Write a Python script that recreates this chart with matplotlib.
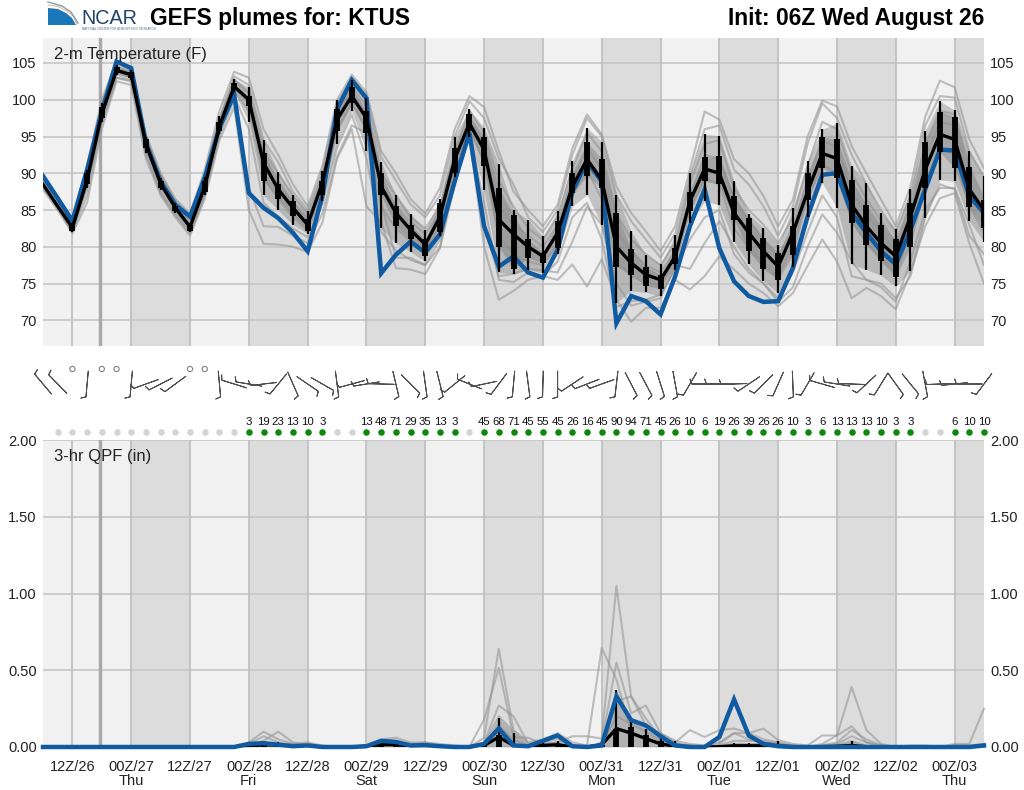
import numpy as np
import matplotlib
matplotlib.use("Agg")
import matplotlib.pyplot as plt
from matplotlib.patches import Polygon

plt.rcParams['font.family'] = ['Liberation Sans', 'DejaVu Sans']

W, H = 1024, 790
steps = np.arange(65)

# 2-m temperature, one value every 3 hours
temp_median = [88.5,85.5,82.6,89.1,98.1,104,103.4,94,88.6,85.3,82.7,88.2,96.4,101.8,100,91.4,87.8,85.3,83,88.7,97.3,100.5,97.5,88.2,84.6,82.3,80.3,84.1,91.9,96.8,93.2,83.7,81.7,80,78.7,81.9,88.2,91.9,89.1,80,77.8,76.2,75.5,78.7,86.2,90.6,90,84.6,81.9,79.4,77.3,81.9,87.5,92.7,92,85.7,82.8,80.5,78.7,84.1,90.5,95.3,94.6,87.8,85]
temp_control = [89.6,86.6,83.5,90.5,98.4,105.2,104.3,94.1,88.9,85.7,84.1,89.4,96.2,100.7,87.3,85.3,83.9,81.9,79.4,86.9,98.7,102.7,100.2,76.4,78.9,80.7,79.2,81.7,88.9,95.5,82.8,77.3,78.7,76.5,75.8,79.6,87.5,91.6,88.9,69.6,73.3,72.6,70.8,76,82.8,87.8,79.8,75.3,73.3,72.5,72.6,77.1,84.1,89.8,90,84.6,81.9,79.4,77.6,82.3,87.8,93.2,93.1,86.9,84.6]

# box and whisker values start at step 2
whisk_lo = [82,88,97,103.3,102.7,92.8,87.7,84.6,82,87,95.3,101,97,87,85,83,81.8,86.2,94,98.5,93,82.5,80.5,79.3,78,81.5,89.5,95,87.7,76.5,76.3,76.9,76.4,79,85.5,87.1,82.9,72.4,74,73.8,73.3,76.9,83.2,86.2,85.7,80.7,77.6,75.3,73.7,77.3,84.1,88.7,85.3,77.6,76.9,76.1,74.6,76.7,83.9,89.1,88.9,83.5,80.7]
box_lo = [82.2,88.5,97.5,103.6,103,93.4,88,84.9,82.2,87.5,95.8,101.3,99.2,89,86.5,84.2,82.2,87,95.7,99.5,95.5,87,82.8,81,78.8,82,90,95.7,91,80,77,78.5,77.8,79.8,87.3,89.6,88,77.3,76.2,74.7,74.3,77.6,84.8,88.9,88.5,83.7,79.4,77,75.5,78.9,86.4,90.7,89.4,83.3,80.3,78,75.9,80,88,92.9,90.7,85.4,82.6]
box_hi = [83,90,99,104.4,103.8,94.6,89,85.6,83,89,97,102.3,100.5,92.8,88.6,86.2,83.8,89,98.7,101.7,98.5,90,85.5,83,81,86,93.5,98,95,88,84.3,81,79.2,83.5,90.1,94.2,92,84.6,79.7,77.3,76.2,79.8,87.5,92.2,92.3,86.9,83.9,81.2,79.2,82.8,90,95,94.6,89.1,85.7,82.9,81,86,94.3,98.4,97.7,90.8,86.4]
whisk_hi = [83.2,90.5,99.5,104.7,104,95,89.4,86,83.3,89.5,97.8,102.8,101.7,94.5,90.2,87,84.8,90.3,100,102.7,100.3,91.5,87,84.5,82.3,86.5,95,98.7,96.2,91.2,85,83.7,81.4,84.8,91.6,96.2,94.3,87.1,82.1,78.9,77.6,81.6,90,95.3,95.1,88.9,84.4,82.6,80.3,85.3,91.6,96,96.8,91,88.7,84.6,82.4,87.8,95.8,99.8,98.6,93,89.6]

# ensemble members that can be followed by eye
temp_members = [
    [90,86.8,83.8,91,100,105.3,104.4,95.3,90,86.5,84.5,90.5,98.5,103.8,103,96,92.5,88.5,85.5,91,100,103.4,101,93,90,86.5,84.5,88,96,100.5,99,93,87.5,85,82.8,85.7,93.4,98,95.3,88.2,84.6,82.1,79.4,82.8,90.5,98.4,97.3,91.9,90,86.9,82.8,86.4,95,99.9,99.1,93.7,90,86.4,82.8,88.2,97.7,102.6,101.7,94.6,90.7],
    [87.8,85,81.8,86,96,102.5,102,92,87,84,81.5,86.5,94.5,99,85,80.4,80.3,80,79.3,83.3,92,96,85.5,83.3,77.1,76.9,76.3,79.8,88.5,95,80,72.8,74,75.5,76,75.5,77.6,74.6,78.3,72.8,69.8,71.7,71.7,75.5,74.2,76,78.7,76.9,75,73.7,71.9,73.7,77.4,81,78,73,74.4,73.3,71.5,76.5,82.8,86.6,87.3,80.5,75],
    [89.8,86.6,83.5,90.5,99.5,105,104.2,95,89.8,86.3,84.2,90,97.5,103.2,102,94.5,91.5,87.5,85,90.3,99.5,103,100.5,92.2,89,85.8,84,87,95,99.8,97.5,92,88.5,84,82,85,92.5,97.5,95,87,83.5,81,78.5,81.8,89.5,96,96.5,90.5,88.5,85.5,81.5,85.5,94,99.5,97.5,92.5,88.5,85,82,87,96.5,100.5,100.3,93,89.5],
    [88,85.2,82,87,97,103,102.5,92.5,87.3,84.3,81.8,87,95,100,88,82.8,82.7,81.5,80.5,84.5,92.3,96.5,95.5,86,78.5,78.5,77.5,80,89.5,96,83,76,76.3,77,76.8,76.5,80.7,85.5,83,75,72,72.5,73,77.5,77,80.5,83.5,80,77,75,72.5,74.5,80,84.4,81.9,78,75.5,74.5,72.5,78,85,88,88,83,77.5],
    [88.2,85.4,82.2,88,96.8,103,102.6,93,87.5,84.5,82,87.2,95.5,100.5,96,86,84,82.5,81.3,85.8,93.5,98,92,82,79.5,78.2,77.5,81,88.8,95.5,86,75.5,75.2,76.5,76,78,84,86,81,71.8,72.6,72.8,73.5,77,81,84,85,79,76.5,75,73,76.5,82,87,84,76,75.5,75,73,76,84,88.5,87.8,81.5,79],
    [89.4,86.2,83.2,90,99,104.6,103.9,94.6,89.4,86,83.6,89.5,97.3,102.8,101,93,90,87,84.5,89.8,98.5,102,99,90,87,84,82.5,85.5,93,98.5,95.5,89,85.5,82.5,81,84,90.5,95.5,93,84.5,81,79,77.5,80.5,88.5,94,94.5,88,85,83,80.5,84,91,97,96,90,86.5,83.5,80.5,86,94,98.5,98,91,86.5],
    [88.9,85.9,82.9,89.8,98.8,104.3,103.7,94.4,89,85.8,83.2,89,97,102.5,100.8,92.5,89,86,83.9,89.2,97.5,101.3,98,88.8,85.5,83.4,81.7,84.8,92,97.5,94,85.5,83,81.5,80,83,89,93.5,90.5,82,79.5,77.5,76.5,79.5,87,92.5,92,86.5,83.5,81,78.5,82.8,89,94.5,93.5,87.5,84.5,82,79.5,85,92,97,96.5,89,84],
    [88.4,85.5,82.4,88.5,97.5,103.7,103,93.6,88.2,85,82.4,87.8,96,101.2,98.5,89.5,86.5,84,82.2,87.5,95.8,99.5,96,85.5,82.5,80.8,79.5,83,90.5,96.2,91.5,81.5,79,78,77.5,80.5,86.8,90.5,86.5,78,76,75,74.8,78,85,89.3,88.5,82.5,79.8,77.8,75.8,80.5,86.5,91.2,90,83.5,80.5,78.5,76.5,82,88.5,93.5,92.5,85.5,82],
]

# 3-hr QPF
qpf_median = [0,0,0,0,0,0,0,0,0,0,0,0,0,0,.005,.015,.012,.005,.005,0,0,0,.005,.015,.015,.005,.005,.002,0,0,.01,.065,.01,.005,.01,.015,0,0,.015,.12,.09,.055,.02,.005,0,0,.002,.008,.008,.008,.005,.002,0,.002,.005,.01,.002,0,0,0,0,0,0,0,0]
qpf_control = [0,0,0,0,0,0,0,0,0,0,0,0,0,0,.02,.025,.015,.005,.01,0,0,0,.005,.04,.033,.01,.012,.005,0,0,.02,.12,.01,.005,.04,.075,.005,0,.01,.33,.175,.14,.07,.01,0,0,.065,.31,.075,.02,.005,0,0,0,0,0,0,0,0,0,0,0,0,0,.01]
qpf_whisk_hi = [0,0,0,0,0,0,0,0,0,0,0,0,0,0,.02,.03,.03,.02,.015,0,0,0,.01,.03,.04,.01,.02,.01,0,0,.015,.19,.09,.01,.025,.04,0,0,.03,.37,.18,.12,.06,.04,0,0,.005,.025,.025,.028,.04,.005,0,.005,.015,.04,.01,0,0,0,0,0,0,0,0]
qpf_box_hi = [0,0,0,0,0,0,0,0,0,0,0,0,0,0,.005,.01,.01,.005,.005,0,0,0,.003,.012,.012,.005,.005,.002,0,0,.01,.075,.02,.002,.008,.012,0,0,.012,.12,.13,.075,.04,.005,0,0,.002,.005,.005,.005,.005,.002,0,.002,.005,.008,.002,0,0,0,0,0,0,0,0]
qpf_members = [
    [0,0,0,0,0,0,0,0,0,0,0,0,0,0,.03,.1,.05,.02,.03,.01,0,0,.01,.05,.06,.03,.03,.02,.01,0,.06,.64,.11,.03,.05,.09,.03,.01,.645,.44,.1,.05,.03,.02,.01,0,.02,.09,.05,.03,.02,.01,0,.02,.075,.39,.11,.02,0,.01,.01,0,.02,.02,.25],
    [0,0,0,0,0,0,0,0,0,0,0,0,0,0,.01,.04,.1,.03,.01,0,0,0,0,.04,.03,.02,.01,.01,0,0,.18,.515,.065,.06,.02,.03,.07,.07,.055,1.05,.33,.14,.09,.03,.11,.065,.11,.12,.09,.12,.045,.02,.01,.075,.075,.135,.03,.01,0,0,0,0,.01,.01,.02],
    [0,0,0,0,0,0,0,0,0,0,0,0,0,0,.02,.07,.03,.01,.02,0,0,0,.005,.03,.04,.015,.03,.01,0,0,.03,.27,.2,.02,.03,.05,.01,0,.03,.55,.22,.27,.09,.04,.02,.01,.03,.09,.09,.05,.03,.01,0,.01,.03,.11,.05,.01,0,0,0,0,0,.005,.01],
    [0,0,0,0,0,0,0,0,0,0,0,0,0,0,.01,.03,.02,.02,.01,0,0,0,.005,.02,.02,.01,.01,.005,0,0,.02,.2,.1,.01,.02,.03,.01,0,.02,.3,.33,.185,.06,.02,.01,0,.01,.04,.04,.04,.02,.005,0,.01,.02,.07,.03,0,0,0,0,0,0,0,0],
    [0,0,0,0,0,0,0,0,0,0,0,0,0,0,.005,.02,.015,.01,.005,0,0,0,.002,.015,.015,.005,.01,.005,0,0,.01,.14,.05,.005,.01,.02,0,0,.01,.2,.15,.1,.04,.01,.005,0,.005,.02,.02,.02,.01,.002,0,.005,.01,.04,.01,0,0,0,0,0,0,0,0],
]

# 3-hr chance of precipitation, printed above the QPF panel (step 0 has no dot)
pop_values = [0,0,0,0,0,0,0,0,0,0,0,0,0,3,19,23,13,10,3,0,0,13,48,71,29,35,13,3,0,45,68,71,45,55,45,26,16,45,90,94,71,45,26,10,6,19,26,39,26,26,10,3,6,13,13,13,10,3,3,0,0,6,10,10]

# wind barb direction (0, 0 means calm)
wind_u = [50,58,0,7,0,0,7,83,72,68,0,0,-7,77,80,78,52,-30,-63,-70,-10,74,80,85,-17,-55,-10,-18,65,70,72,45,7,-10,2,0,65,72,70,9,-34,-35,-22,-13,37,75,80,80,60,55,30,-3,38,77,75,75,57,37,-43,-49,-13,75,78,80,45]
wind_v = [-59,-59,0,78,0,0,77,30,37,50,0,0,78,-24,-13,9,63,68,43,40,77,20,13,-2,72,55,72,72,53,-28,15,60,77,77,75,75,43,28,25,77,66,66,70,72,63,0,0,3,40,55,68,77,65,-22,-12,-3,53,60,60,60,70,3,8,0,60]

tick_steps = [2,6,10,14,18,22,26,30,34,38,42,46,50,54,58,62]
tick_labels = ['12Z/26','00Z/27\nThu','12Z/27','00Z/28\nFri','12Z/28','00Z/29\nSat','12Z/29','00Z/30\nSun','12Z/30','00Z/31\nMon','12Z/31','00Z/01\nTue','12Z/01','00Z/02\nWed','12Z/02','00Z/03\nThu']
temp_ticks = [70,75,80,85,90,95,100,105]
qpf_ticks = [0,0.5,1,1.5,2]
night_starts = [6,14,22,30,38,46,54,62]
now_step = 3.9

BLUE = '#0f5aa0'


def add_axes_px(left, top, right, bottom):
    return fig.add_axes([left / W, 1 - bottom / H, (right - left) / W, (bottom - top) / H])


def dress_panel(ax):
    ax.set_facecolor('#f1f1f1')
    ax.set_xlim(0, 64)
    for s in night_starts:
        ax.axvspan(s, min(s + 4, 64), color='#dcdcdc', lw=0, zorder=0)
    for s in tick_steps:
        ax.axvline(s, color='#bdbdbd', lw=1.2, zorder=1)
    ax.axvline(now_step, color='#a8a8a8', lw=2.4, zorder=1)
    ax.grid(axis='y', color='#c6c6c6', lw=1.2, zorder=1)
    ax.set_axisbelow(True)
    for spine in ax.spines.values():
        spine.set_visible(False)
    ax.tick_params(axis='both', length=0, labelsize=10.5, labelcolor='#222222')
    ax.tick_params(axis='y', pad=4.5, labelright=True)


fig = plt.figure(figsize=(W / 100, H / 100), dpi=100)

# temperature panel
ax_t = add_axes_px(43, 38, 984, 346)
dress_panel(ax_t)
ax_t.set_ylim(66.5, 108.4)
ax_t.set_yticks(temp_ticks)
ax_t.set_xticks([])
box_x = steps[2:]
ax_t.fill_between(box_x, whisk_lo, whisk_hi, color='#808080', alpha=0.4, lw=0, zorder=2)
ax_t.fill_between(box_x, box_lo, box_hi, color='#606060', alpha=0.3, lw=0, zorder=2)
for member in temp_members:
    ax_t.plot(steps, member, color='#909090', lw=1.5, alpha=0.55, zorder=2)
ax_t.plot(steps, temp_control, color=BLUE, lw=3.2, zorder=3, solid_joinstyle='miter')
ax_t.plot(steps, temp_median, color='black', lw=2.4, zorder=4)
ax_t.vlines(box_x, whisk_lo, whisk_hi, color='black', lw=1.6, zorder=4)
ax_t.vlines(box_x, box_lo, box_hi, color='black', lw=4.2, zorder=4)
ax_t.text(54 / W, 1 - 55 / H, '2-m Temperature (F)', transform=fig.transFigure, fontsize=12,
          color='#222222', va='center', zorder=6)

# wind barbs
ax_w = add_axes_px(43, 355, 984, 410)
ax_w.set_xlim(0, 64)
ax_w.set_ylim(0, 55)
ax_w.axis('off')
u = np.array(wind_u)
v = np.array(wind_v)
calm = (u == 0) & (v == 0)
ax_w.barbs(steps[~calm], np.full((~calm).sum(), 26), u[~calm], v[~calm], pivot='middle', length=6.1,
           rounding=False, barb_increments=dict(half=50, full=50, flag=1000),
           sizes=dict(height=0.19, width=0.13, spacing=0.12),
           barbcolor='#505050', flagcolor='#505050', linewidth=0.7, clip_on=False)
ax_w.scatter(steps[calm], np.full(calm.sum(), 41), s=14, facecolor='none', edgecolor='#808080', lw=0.8, clip_on=False)

# chance of precipitation dots
ax_p = add_axes_px(43, 412, 984, 438)
ax_p.set_xlim(0, 64)
ax_p.set_ylim(0, 26)
ax_p.axis('off')
pop_x = steps[1:]
pop = np.array(pop_values)
ax_p.scatter(pop_x[pop == 0], np.full((pop == 0).sum(), 5.5), s=22, color='#d4d4d4', lw=0, clip_on=False)
ax_p.scatter(pop_x[pop > 0], np.full((pop > 0).sum(), 5.5), s=22, color='#0a8a0a', lw=0, clip_on=False)
for x, val in zip(pop_x, pop):
    if val > 0:
        ax_p.text(x, 16, str(val), fontsize=8.2, ha='center', va='center', color='#111111')

# QPF panel
ax_q = add_axes_px(43, 440, 984, 747)
dress_panel(ax_q)
ax_q.set_ylim(0, 2)
ax_q.set_yticks(qpf_ticks)
ax_q.set_yticklabels(['%.2f' % t for t in qpf_ticks])
ax_q.set_xticks(tick_steps)
ax_q.set_xticklabels(tick_labels, linespacing=0.95)
ax_q.tick_params(axis='x', pad=9.7)
ax_q.fill_between(steps, 0, qpf_whisk_hi, color='#808080', alpha=0.45, lw=0, zorder=2)
for member in qpf_members:
    ax_q.plot(steps, member, color='#909090', lw=1.5, alpha=0.55, zorder=2, clip_on=False)
ax_q.plot(steps, qpf_median, color='black', lw=2.4, zorder=3)
ax_q.vlines(steps, 0, qpf_whisk_hi, color='black', lw=1.6, zorder=3)
ax_q.vlines(steps, 0, qpf_box_hi, color='black', lw=4.2, zorder=3)
ax_q.plot(steps, qpf_control, color=BLUE, lw=3.2, zorder=4, clip_on=False, solid_joinstyle='miter')
ax_q.text(54 / W, 1 - 457 / H, '3-hr QPF (in)', transform=fig.transFigure, fontsize=12,
          color='#222222', va='center', zorder=6)

# header
fig.text(150 / W, 1 - 18 / H, 'GEFS plumes for: KTUS', fontsize=16.4, fontweight='bold', va='center', color='black')
fig.text(984 / W, 1 - 18 / H, 'Init: 06Z Wed August 26', fontsize=16.4, fontweight='bold', va='center', ha='right', color='black')

# logo
ax_l = fig.add_axes([0, 0, 1, 1], facecolor='none')
ax_l.set_xlim(0, W)
ax_l.set_ylim(H, 0)
ax_l.axis('off')
ax_l.add_patch(Polygon([(48, 8), (58, 9), (66, 13), (72, 18), (76, 25), (48, 25)], closed=True, color='#1a78b8', lw=0))
ax_l.plot([48, 58, 66, 73, 77], [5, 6.5, 10.5, 16, 24], color='#e8b27a', lw=0.7)
ax_l.plot([48, 62, 71, 78], [2, 6, 12, 23], color='#7f9db8', lw=1.0)
ax_l.text(81, 19, 'NCAR', fontsize=14.2, color='#1f4468', va='center')
ax_l.text(82, 28.5, 'NATIONAL CENTER FOR ATMOSPHERIC RESEARCH', fontsize=2.2, color='#4a6a88', va='center')

fig.savefig('out.png', dpi=100)
